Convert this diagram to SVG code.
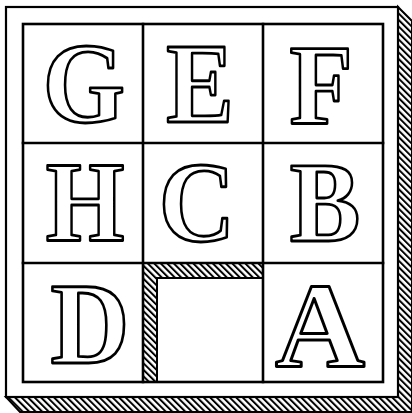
<svg xmlns="http://www.w3.org/2000/svg" width="412" height="413" viewBox="0 0 412 413">
<defs>
<pattern id="hatch" width="4.6" height="4.6" patternUnits="userSpaceOnUse" patternTransform="rotate(-45)">
<rect x="0" y="0" width="2" height="4.6" fill="#000"/>
</pattern>
<style>
.line{stroke:#000;stroke-width:2.6;fill:none;stroke-linecap:square}
.frame{fill:#fff;stroke:#000;stroke-width:2.2}
.hat{fill:url(#hatch);stroke:#000;stroke-width:2;stroke-linejoin:miter}
.let{font-family:"Liberation Serif","Times New Roman",serif;font-weight:bold;font-size:115px;fill:#fff;stroke:#000;stroke-width:2.8;stroke-linejoin:round;text-anchor:middle}
</style>
</defs>
<rect width="412" height="413" fill="#fff"/>
<g id="box">
<polygon class="hat" points="398,7 412,21 412,412 20,412 6,397 398,397"/>
<rect class="frame" x="6" y="7" width="392" height="390"/>
</g>
<g id="empty-cell">
<rect class="hat" x="143" y="263" width="120" height="119"/>
<rect x="157" y="278" width="106" height="104" fill="#fff" stroke="#000" stroke-width="2"/>
</g>
<g id="grid">
<rect class="line" x="23" y="24" width="360" height="358"/>
<line class="line" x1="143" y1="24" x2="143" y2="382"/>
<line class="line" x1="263" y1="24" x2="263" y2="382"/>
<line class="line" x1="23" y1="143" x2="383" y2="143"/>
<line class="line" x1="23" y1="263" x2="383" y2="263"/>
</g>
<g id="tile-G"><text class="let" transform="translate(84,122) scale(0.92,1)">G</text></g>
<g id="tile-E"><text class="let" transform="translate(200,122) scale(0.88,1)">E</text></g>
<g id="tile-F"><text class="let" transform="translate(321,123) scale(0.9,1)">F</text></g>
<g id="tile-H"><text class="let" transform="translate(85,241) scale(0.88,1)">H</text></g>
<g id="tile-C"><text class="let" transform="translate(197,241) scale(0.92,1)">C</text></g>
<g id="tile-B"><text class="let" transform="translate(325,241) scale(0.92,1)">B</text></g>
<g id="tile-D"><text class="let" transform="translate(90,363) scale(0.95,1.02)">D</text></g>
<g id="tile-A"><text class="let" transform="translate(320,366) scale(1.08,1.04)">A</text></g>
</svg>
